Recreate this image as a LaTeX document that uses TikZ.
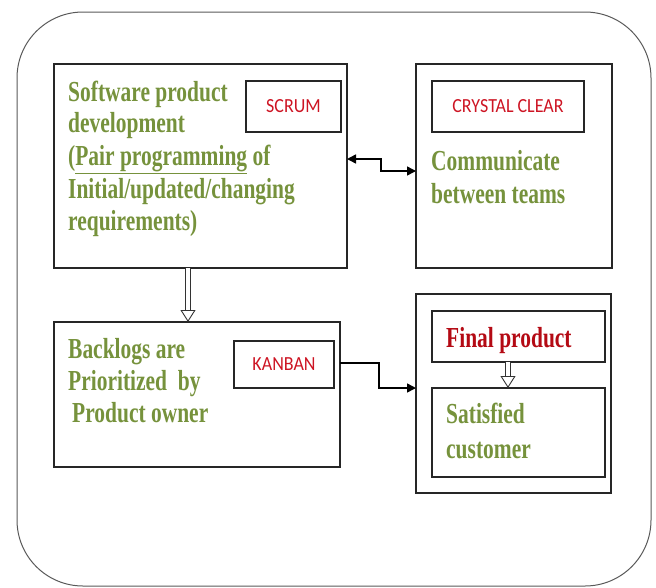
\documentclass[tikz,border=0pt]{standalone}
\usepackage{fontspec}
\setmainfont{Liberation Serif}[FakeStretch=0.74]
\newfontfamily\calfont{Carlito}[FakeStretch=0.9]
\usetikzlibrary{arrows.meta}
\definecolor{olivetxt}{RGB}{118,146,60}
\definecolor{tagred}{RGB}{205,20,35}
\definecolor{darkred}{RGB}{180,10,20}
\tikzset{mytip/.tip={Triangle[length=9pt,width=9pt]}}
\begin{document}
\begin{tikzpicture}[x=1pt,y=-1pt,
  box/.style={draw=black!85,line width=1.2pt,inner sep=0pt,outer sep=0pt},
  tag/.style={box,font=\calfont\fontsize{20}{22}\selectfont,text=tagred},
  gtext/.style={anchor=base west,inner sep=0pt,text=olivetxt,font=\fontsize{29}{32}\selectfont\bfseries},
  rtext/.style={gtext,text=darkred},
  hollow/.style={double=white,double distance=4pt,line width=0.9pt,draw=black!80,
    -{Triangle[length=12pt,width=15pt,fill=white,line width=0.9pt]}},
  solidarrow/.style={draw=black,line width=1.5pt}]
\useasboundingbox (0,0) rectangle (656,587);
% outer frame
\draw[draw=black!65,line width=1pt,rounded corners=66pt] (17,12) rectangle (651,586);
% boxes
\node[box,minimum width=293pt,minimum height=204pt] (b1) at (200.5,166) {};
\node[tag,minimum width=95pt,minimum height=51pt] (scrum) at (293.5,106.5) {SCRUM};
\node[box,minimum width=196pt,minimum height=204pt] (b2) at (514,166) {};
\node[tag,minimum width=152pt,minimum height=51pt] (crystal) at (508,106.5) {CRYSTAL CLEAR};
\node[box,minimum width=286pt,minimum height=145pt] (b3) at (197,394.5) {};
\node[tag,minimum width=100pt,minimum height=47pt] (kanban) at (284,364.5) {KANBAN};
\node[box,minimum width=195pt,minimum height=199pt] (b4) at (513.5,393.5) {};
\node[box,minimum width=173pt,minimum height=51pt] (final) at (518.5,336.5) {};
\node[box,minimum width=173pt,minimum height=89pt] (sat) at (518.5,432.5) {};
% texts
\node[gtext] (t11) at (68,101) {Software product};
\node[gtext] (t12) at (68,132) {development};
\node[gtext] (t13) at (68,165) {(\underline{Pair programming} of};
\node[gtext] (t14) at (68,198) {Initial/updated/changing};
\node[gtext] (t15) at (68,230) {requirements)};
\node[gtext] (t21) at (431,170) {Communicate};
\node[gtext] (t22) at (431,203) {between teams};
\node[gtext] (t31) at (68,358) {Backlogs are};
\node[gtext] (t32) at (68,390) {Prioritized\ \ by};
\node[gtext] (t33) at (72,422) {Product owner};
\node[rtext] (t41) at (446,347) {Final product};
\node[gtext] (t42) at (446,423) {Satisfied};
\node[gtext] (t43) at (446,458) {customer};
% connectors
\draw[solidarrow,{mytip}-{mytip}] ([yshift=7pt]b1.east) -- ++(34pt,0) |- ([yshift=-5pt]b2.west);
\draw[solidarrow,-{mytip}] ([yshift=31.5pt]b3.east) -- ++(39pt,0) |- ([yshift=5.5pt]b4.west);
\draw[hollow] ([xshift=-12.5pt]b1.south) -- ([xshift=-12.5pt]b1.south |- b3.north);
\draw[hollow] ([xshift=-10.5pt]final.south) -- ([xshift=-10.5pt]final.south |- sat.north);
\end{tikzpicture}
\end{document}
